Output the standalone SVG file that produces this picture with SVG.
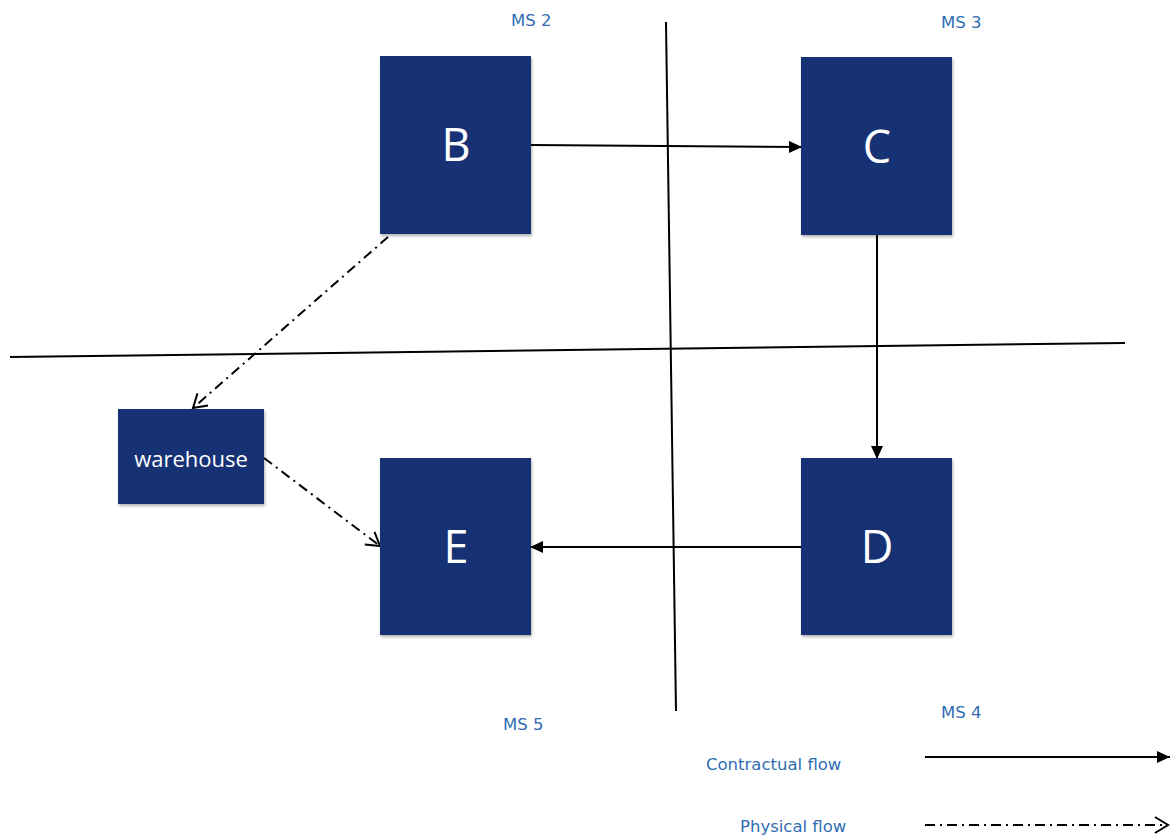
<svg xmlns="http://www.w3.org/2000/svg" width="1174" height="836" viewBox="0 0 1174 836">
<style>
.node{fill:#133175;filter:url(#sh)}
.big{font-family:"Open Sans","DejaVu Sans",sans-serif;font-size:45px;fill:#fff;text-anchor:middle}
.small{font-family:"Open Sans","DejaVu Sans",sans-serif;font-size:22px;fill:#fff;text-anchor:middle}
.lbl{font-family:"DejaVu Sans","Liberation Sans",sans-serif;font-size:16.5px;fill:#2f6db3}
.solid{stroke:#000;stroke-width:2;fill:none}
.dash{stroke:#000;stroke-width:2;fill:none;stroke-dasharray:10 5 2 5}
.div{stroke:#000;stroke-width:2;fill:none}
</style>
<defs>
<filter id="sh" x="-10%" y="-10%" width="130%" height="130%">
<feDropShadow dx="1" dy="2" stdDeviation="1.5" flood-color="#000" flood-opacity="0.3"/>
</filter>
<marker id="fa" markerWidth="14" markerHeight="12" refX="13" refY="6" orient="auto" markerUnits="userSpaceOnUse">
<path d="M0,0 L13,6 L0,12 Z" fill="#000"/>
</marker>
<marker id="oa" markerWidth="16" markerHeight="18" refX="14" refY="9" orient="auto" markerUnits="userSpaceOnUse">
<path d="M1,1 L14,9 L1,17" fill="none" stroke="#000" stroke-width="2"/>
</marker>
</defs>
<g id="dividers">
<line class="div" x1="666" y1="22" x2="676" y2="711"/>
<line class="div" x1="10" y1="357" x2="1125" y2="343"/>
</g>
<g id="connectors">
<line class="solid" x1="531" y1="145" x2="802" y2="147" marker-end="url(#fa)"/>
<line class="solid" x1="877" y1="235" x2="877" y2="459" marker-end="url(#fa)"/>
<line class="solid" x1="801" y1="547" x2="530" y2="547" marker-end="url(#fa)"/>
<line class="dash" x1="388" y1="237" x2="193" y2="408" marker-end="url(#oa)"/>
<line class="dash" x1="264" y1="458" x2="380" y2="546" marker-end="url(#oa)"/>
<line class="solid" x1="925" y1="757" x2="1170" y2="757" marker-end="url(#fa)"/>
<line class="dash" x1="925" y1="825" x2="1168" y2="825" marker-end="url(#oa)"/>
</g>
<g id="node-B"><rect class="node" x="380" y="56" width="151" height="178"/><text class="big" x="456" y="161">B</text></g>
<g id="node-C"><rect class="node" x="801" y="57" width="151" height="178"/><text class="big" x="877" y="163">C</text></g>
<g id="node-D"><rect class="node" x="801" y="458" width="151" height="177"/><text class="big" x="877" y="563">D</text></g>
<g id="node-E"><rect class="node" x="380" y="458" width="151" height="177"/><text class="big" x="456" y="563">E</text></g>
<g id="node-warehouse"><rect class="node" x="118" y="409" width="146" height="95"/><text class="small" x="191" y="467">warehouse</text></g>
<g id="labels">
<text class="lbl" x="511" y="26">MS 2</text>
<text class="lbl" x="941" y="28">MS 3</text>
<text class="lbl" x="503" y="730">MS 5</text>
<text class="lbl" x="941" y="718">MS 4</text>
<text class="lbl" x="706" y="770">Contractual flow</text>
<text class="lbl" x="740" y="832">Physical flow</text>
</g>
</svg>
